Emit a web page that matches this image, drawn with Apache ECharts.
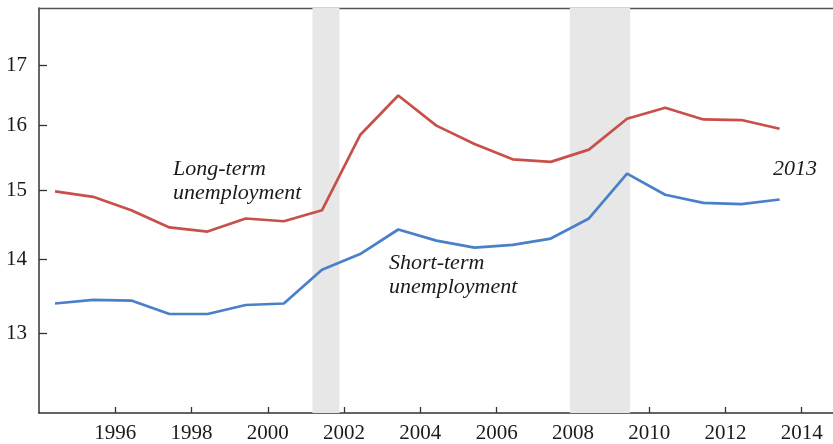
<!DOCTYPE html>
<html>
<head>
<meta charset="utf-8">
<script src="https://cdn.jsdelivr.net/npm/echarts@6/dist/echarts.min.js"></script>
<style>html,body{margin:0;padding:0;background:#fff}#c{width:833px;height:444px}</style>
</head>
<body>
<div id="c"></div>
<script>
var years = [1994,1995,1996,1997,1998,1999,2000,2001,2002,2003,2004,2005,2006,2007,2008,2009,2010,2011,2012,2013];
var longTerm = [14.98,14.90,14.70,14.45,14.39,14.58,14.54,14.70,15.85,16.49,16.00,15.71,15.47,15.43,15.62,16.11,16.29,16.10,16.09,15.95];
var shortTerm = [13.39,13.44,13.43,13.25,13.25,13.37,13.39,13.85,14.07,14.42,14.26,14.16,14.20,14.29,14.58,15.25,14.93,14.81,14.79,14.86];
var recessions = [[2001.17, 2001.88], [2007.92, 2009.5]];
var xTicks = [1996,1998,2000,2002,2004,2006,2008,2010,2012,2014];
var yTicks = [13,14,15,16,17];
var pointOffset = 0.42;

var serif = '"Liberation Serif","DejaVu Serif",serif';
var chart = echarts.init(document.getElementById('c'));

function pairs(vals){ return years.map(function(y,i){ return [y + pointOffset, vals[i]]; }); }

chart.setOption({
  animation: false,
  grid: {left: 39, right: 0, top: 8, bottom: 31},
  xAxis: [{
    type: 'value', min: 1994, max: 2014.82,
    axisLine: {show: true, lineStyle: {color: '#333', width: 1.5}},
    axisTick: {show: true, inside: true, length: 6, customValues: xTicks, lineStyle: {color: '#333', width: 1.3}},
    axisLabel: {customValues: xTicks, color: '#1a1a1a', fontFamily: serif, fontSize: 21, margin: 10,
      formatter: function(v){ return String(Math.round(v)); }},
    splitLine: {show: false}
  }, {
    type: 'value', position: 'top', min: 1994, max: 2014.82,
    axisLine: {show: true, lineStyle: {color: '#555', width: 1.3}},
    axisTick: {show: false}, axisLabel: {show: false}, splitLine: {show: false}
  }],
  yAxis: {
    type: 'log', logBase: 10, min: 12, max: 18,
    axisLine: {show: true, lineStyle: {color: '#333', width: 1.5}},
    axisTick: {show: true, inside: true, length: 8, customValues: yTicks, lineStyle: {color: '#333', width: 1.3}},
    axisLabel: {customValues: yTicks, color: '#1a1a1a', fontFamily: serif, fontSize: 21, margin: 12,
      formatter: function(v){ return String(Math.round(v)); }},
    splitLine: {show: false}
  },
  series: [{
    type: 'line', name: 'Long-term', data: pairs(longTerm), showSymbol: false,
    lineStyle: {color: '#c8504a', width: 2.7},
    markArea: {silent: true, itemStyle: {color: '#e6e7e6'},
      data: recessions.map(function(r){ return [{xAxis: r[0]}, {xAxis: r[1]}]; })}
  }, {
    type: 'line', name: 'Short-term', data: pairs(shortTerm), showSymbol: false,
    lineStyle: {color: '#4a80c8', width: 2.7}
  }],
  graphic: [
    {type: 'text', left: 173, top: 157, style: {text: 'Long-term\nunemployment', font: 'italic 22px ' + serif, fill: '#1a1a1a', lineHeight: 24}},
    {type: 'text', left: 389, top: 251, style: {text: 'Short-term\nunemployment', font: 'italic 22px ' + serif, fill: '#1a1a1a', lineHeight: 24}},
    {type: 'text', left: 773, top: 158, style: {text: '2013', font: 'italic 22px ' + serif, fill: '#1a1a1a'}}
  ]
});
</script>
</body>
</html>
